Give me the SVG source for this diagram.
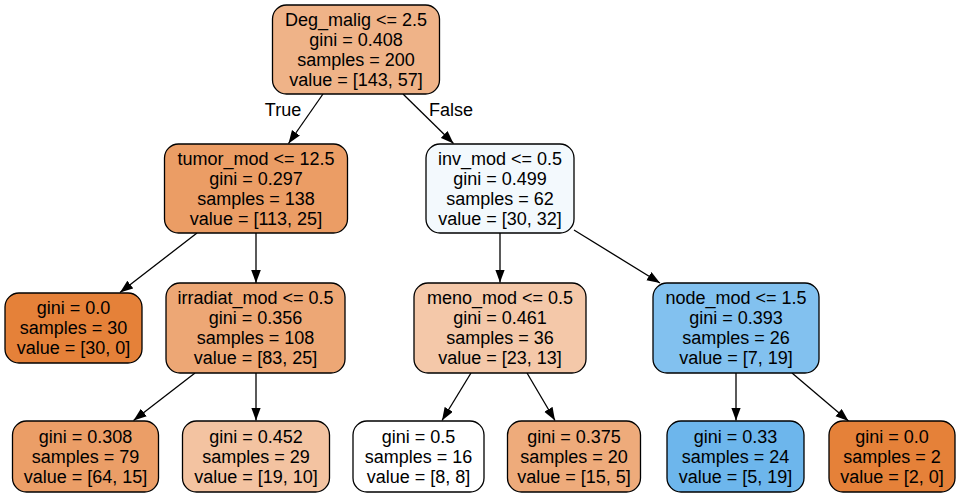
<svg xmlns="http://www.w3.org/2000/svg" width="961" height="497" viewBox="0 0 961 497">
<defs>
<style>
.n{stroke:#000;stroke-width:1.3}
.t{font-family:"Liberation Sans",Helvetica,Arial,sans-serif;font-size:18px;text-anchor:middle;fill:#000}
.e{stroke:#000;stroke-width:1.3;fill:none;marker-end:url(#ah)}
</style>
<marker id="ah" markerUnits="userSpaceOnUse" markerWidth="14" markerHeight="10" refX="13" refY="4.8" orient="auto">
<path d="M0,0 L13,4.8 L0,9.6 z" fill="#000"/>
</marker>
</defs>
<rect width="961" height="497" fill="#fff"/>
<g id="edges">
<line class="e" x1="323" y1="94" x2="288.5" y2="143.5"/>
<line class="e" x1="403" y1="94" x2="453.5" y2="143.5"/>
<line class="e" x1="197" y1="233" x2="120" y2="292.5"/>
<line class="e" x1="256" y1="233" x2="256" y2="283"/>
<line class="e" x1="195" y1="373" x2="133.5" y2="420.5"/>
<line class="e" x1="256" y1="373" x2="256" y2="420.5"/>
<line class="e" x1="500" y1="233" x2="500" y2="282.5"/>
<line class="e" x1="574" y1="230" x2="660" y2="283"/>
<line class="e" x1="471" y1="373" x2="442" y2="420.5"/>
<line class="e" x1="527" y1="373" x2="555" y2="420.5"/>
<line class="e" x1="736" y1="373" x2="736" y2="420.5"/>
<line class="e" x1="792" y1="373" x2="848.5" y2="421"/>
<text class="t" x="283" y="115.5">True</text>
<text class="t" x="451" y="115.5">False</text>
</g>
<g id="n0">
<rect class="n" x="272.5" y="5" width="167" height="89" rx="14" fill="#efb388"/>
<text class="t" x="356" y="25.5">Deg_malig &lt;= 2.5</text>
<text class="t" x="356" y="45.5">gini = 0.408</text>
<text class="t" x="356" y="65.5">samples = 200</text>
<text class="t" x="356" y="85.5">value = [143, 57]</text>
</g>
<g id="n1">
<rect class="n" x="164.5" y="144" width="183" height="89" rx="14" fill="#eb9d65"/>
<text class="t" x="256" y="164.5">tumor_mod &lt;= 12.5</text>
<text class="t" x="256" y="184.5">gini = 0.297</text>
<text class="t" x="256" y="204.5">samples = 138</text>
<text class="t" x="256" y="224.5">value = [113, 25]</text>
</g>
<g id="n2">
<rect class="n" x="426" y="144" width="148" height="89" rx="14" fill="#f3f9fd"/>
<text class="t" x="500" y="164.5">inv_mod &lt;= 0.5</text>
<text class="t" x="500" y="184.5">gini = 0.499</text>
<text class="t" x="500" y="204.5">samples = 62</text>
<text class="t" x="500" y="224.5">value = [30, 32]</text>
</g>
<g id="n3">
<rect class="n" x="5" y="293" width="137" height="70" rx="14" fill="#e58139"/>
<text class="t" x="73.5" y="314">gini = 0.0</text>
<text class="t" x="73.5" y="334">samples = 30</text>
<text class="t" x="73.5" y="354">value = [30, 0]</text>
</g>
<g id="n4">
<rect class="n" x="166" y="283" width="179" height="90" rx="14" fill="#eda775"/>
<text class="t" x="255.5" y="303.5">irradiat_mod &lt;= 0.5</text>
<text class="t" x="255.5" y="323.5">gini = 0.356</text>
<text class="t" x="255.5" y="343.5">samples = 108</text>
<text class="t" x="255.5" y="363.5">value = [83, 25]</text>
</g>
<g id="n5">
<rect class="n" x="414" y="283" width="172" height="90" rx="14" fill="#f4c8a9"/>
<text class="t" x="500" y="303.5">meno_mod &lt;= 0.5</text>
<text class="t" x="500" y="323.5">gini = 0.461</text>
<text class="t" x="500" y="343.5">samples = 36</text>
<text class="t" x="500" y="363.5">value = [23, 13]</text>
</g>
<g id="n6">
<rect class="n" x="653" y="283" width="166" height="90" rx="14" fill="#82c1ef"/>
<text class="t" x="736" y="303.5">node_mod &lt;= 1.5</text>
<text class="t" x="736" y="323.5">gini = 0.393</text>
<text class="t" x="736" y="343.5">samples = 26</text>
<text class="t" x="736" y="363.5">value = [7, 19]</text>
</g>
<g id="n7">
<rect class="n" x="12.5" y="421" width="146" height="71" rx="14" fill="#eb9e67"/>
<text class="t" x="85.5" y="442.5">gini = 0.308</text>
<text class="t" x="85.5" y="462.5">samples = 79</text>
<text class="t" x="85.5" y="482.5">value = [64, 15]</text>
</g>
<g id="n8">
<rect class="n" x="182.5" y="421" width="147" height="71" rx="14" fill="#f3c3a1"/>
<text class="t" x="256" y="442.5">gini = 0.452</text>
<text class="t" x="256" y="462.5">samples = 29</text>
<text class="t" x="256" y="482.5">value = [19, 10]</text>
</g>
<g id="n9">
<rect class="n" x="353" y="421" width="131" height="71" rx="14" fill="#ffffff"/>
<text class="t" x="418.5" y="442.5">gini = 0.5</text>
<text class="t" x="418.5" y="462.5">samples = 16</text>
<text class="t" x="418.5" y="482.5">value = [8, 8]</text>
</g>
<g id="n10">
<rect class="n" x="507.5" y="421" width="133" height="71" rx="14" fill="#eeab7b"/>
<text class="t" x="574" y="442.5">gini = 0.375</text>
<text class="t" x="574" y="462.5">samples = 20</text>
<text class="t" x="574" y="482.5">value = [15, 5]</text>
</g>
<g id="n11">
<rect class="n" x="667" y="421" width="137" height="71" rx="14" fill="#6db6ec"/>
<text class="t" x="735.5" y="442.5">gini = 0.33</text>
<text class="t" x="735.5" y="462.5">samples = 24</text>
<text class="t" x="735.5" y="482.5">value = [5, 19]</text>
</g>
<g id="n12">
<rect class="n" x="829" y="421" width="126" height="71" rx="14" fill="#e58139"/>
<text class="t" x="892" y="442.5">gini = 0.0</text>
<text class="t" x="892" y="462.5">samples = 2</text>
<text class="t" x="892" y="482.5">value = [2, 0]</text>
</g>
</svg>
